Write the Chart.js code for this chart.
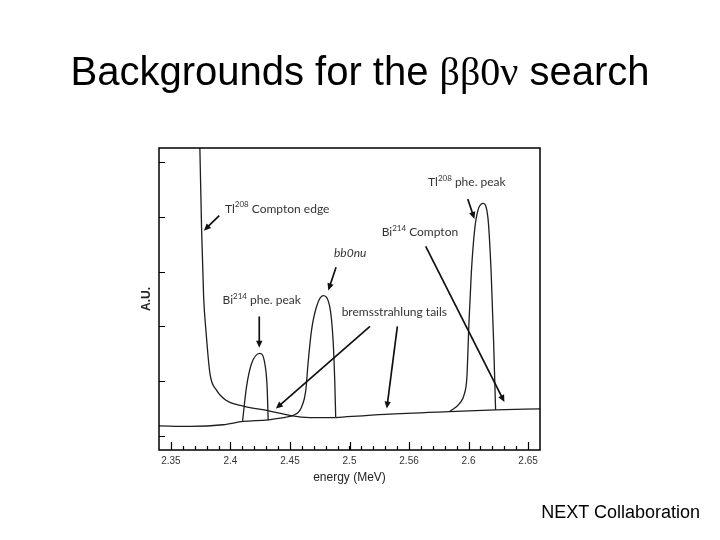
<!DOCTYPE html>
<html>
<head>
<meta charset="utf-8">
<script src="https://cdn.jsdelivr.net/npm/chart.js@4.4.0/dist/chart.umd.min.js"></script>
<style>
  body { margin: 0; background: #fff; }
  #page { position: relative; width: 720px; height: 540px; overflow: hidden; }
  #chart { position: absolute; left: 0; top: 0; }
  #title {
    position: absolute; left: 0; top: 51px; width: 720px; text-align: center;
    font: 40px "Liberation Sans", Arial, sans-serif; line-height: 1; color: #000;
  }
  #title .greek { font-family: "Liberation Serif", "Times New Roman", serif; }
  #credit {
    position: absolute; right: 20px; top: 503px;
    font: 18px "Liberation Sans", Arial, sans-serif; line-height: 1; color: #000;
  }
</style>
</head>
<body>
<div id="page">
  <canvas id="chart" width="720" height="540"></canvas>
  <div id="title">Backgrounds for the <span class="greek">ββ0ν</span> search</div>
  <div id="credit">NEXT Collaboration</div>
</div>
<script>
// axis ticks
const xTickValues = [2.35, 2.4, 2.45, 2.5, 2.55, 2.6, 2.65];
const xTickLabels = ['2.35', '2.4', '2.45', '2.5', '2.56', '2.6', '2.65'];
const yTickValues = [0, 1, 2, 3, 4, 5];

// Tl208 Compton edge and its tail
const comptonE = [2.3740, 2.3758, 2.3775, 2.3794, 2.3828, 2.3883, 2.3967, 2.4107, 2.4331, 2.4498, 2.4666, 2.4764, 2.4884];
const comptonY = [5.60, 3.75, 2.53, 1.93, 1.14, 0.84, 0.65, 0.55, 0.46, 0.38, 0.34, 0.34, 0.34];

// low continuum (left of bb0nu)
const baseLeftE = [2.340, 2.366, 2.3939, 2.4107, 2.4317, 2.447];
const baseLeftY = [0.19, 0.18, 0.21, 0.27, 0.30, 0.35];

// continuum right of bb0nu
const baseRightE = [2.4884, 2.530, 2.584, 2.6227, 2.660];
const baseRightY = [0.34, 0.40, 0.45, 0.48, 0.50];

// Bi214 photo peak
const biPeakE = [2.4102, 2.4135, 2.4177, 2.4247, 2.4289, 2.4308, 2.4317];
const biPeakY = [0.28, 0.90, 1.32, 1.51, 1.32, 0.90, 0.29];

// bb0nu peak
const bbPeakE = [2.4470, 2.4527, 2.4597, 2.4633, 2.4652, 2.4681, 2.4723, 2.4778, 2.4834, 2.4862, 2.4876, 2.4884];
const bbPeakY = [0.35, 0.38, 0.53, 0.84, 1.33, 1.93, 2.36, 2.56, 2.36, 1.75, 1.02, 0.35];

// Tl208 photo peak
const tlPeakE = [2.5841, 2.5925, 2.5966, 2.5986, 2.6003, 2.6023, 2.6051, 2.6078, 2.6122, 2.6162, 2.6190, 2.6210, 2.6227];
const tlPeakY = [0.45, 0.60, 0.78, 1.08, 2.05, 2.97, 3.76, 4.11, 4.24, 3.99, 2.97, 1.75, 0.48];

// annotation texts (left edge, middle) and arrows, in data units
const notes = [
  { x: 2.3954, y: 4.145, parts: [['Tl'], ['208', 'sup'], [' Compton edge']] },
  { x: 2.4870, y: 3.327, parts: [['bb0nu', 'italic']] },
  { x: 2.3934, y: 2.473, parts: [['Bi'], ['214', 'sup'], [' phe. peak']] },
  { x: 2.4934, y: 2.260, parts: [['bremsstrahlung tails']] },
  { x: 2.5660, y: 4.624, parts: [['Tl'], ['208', 'sup'], [' phe. peak']] },
  { x: 2.5270, y: 3.715, parts: [['Bi'], ['214', 'sup'], [' Compton']] }
];
const arrows = [
  [2.3906, 4.018, 2.3777, 3.745],
  [2.4887, 3.078, 2.4822, 2.655],
  [2.4242, 2.182, 2.4242, 1.613],
  [2.5172, 2.000, 2.4382, 0.504],
  [2.5402, 2.000, 2.5313, 0.504],
  [2.5993, 4.322, 2.6049, 3.958],
  [2.5640, 3.460, 2.6301, 0.624]
];

const toPoints = (es, vs) => es.map((e, i) => ({ x: e, y: vs[i] }));

function curve(es, vs) {
  return {
    data: toPoints(es, vs),
    borderColor: '#1e1e1e',
    borderWidth: 1.3,
    pointRadius: 0,
    cubicInterpolationMode: 'monotone',
    fill: false
  };
}

function drawArrow(ctx, x1, y1, x2, y2) {
  const ang = Math.atan2(y2 - y1, x2 - x1);
  const len = 7, half = 3.2;
  ctx.beginPath();
  ctx.moveTo(x1, y1);
  ctx.lineTo(x2 - Math.cos(ang) * len * 0.7, y2 - Math.sin(ang) * len * 0.7);
  ctx.stroke();
  ctx.beginPath();
  ctx.moveTo(x2, y2);
  ctx.lineTo(x2 - Math.cos(ang) * len + Math.sin(ang) * half, y2 - Math.sin(ang) * len - Math.cos(ang) * half);
  ctx.lineTo(x2 - Math.cos(ang) * len - Math.sin(ang) * half, y2 - Math.sin(ang) * len + Math.cos(ang) * half);
  ctx.closePath();
  ctx.fill();
}

const frameAndNotes = {
  id: 'frameAndNotes',
  afterDraw(chart) {
    const { ctx, chartArea: a, scales: { x, y } } = chart;
    ctx.save();

    // frame
    ctx.strokeStyle = '#000';
    ctx.lineWidth = 1.5;
    ctx.strokeRect(a.left, a.top, a.right - a.left, a.bottom - a.top);

    // inward tick marks
    ctx.lineWidth = 1.2;
    ctx.beginPath();
    for (let v = 2.35; v < 2.655; v += 0.01) {
      const px = Math.round(x.getPixelForValue(v)) + 0.5;
      ctx.moveTo(px, a.bottom);
      ctx.lineTo(px, a.bottom - 4);
    }
    for (const v of xTickValues) {
      const px = Math.round(x.getPixelForValue(v)) + 0.5;
      ctx.moveTo(px, a.bottom);
      ctx.lineTo(px, a.bottom - 8);
    }
    for (const v of yTickValues) {
      const py = Math.round(y.getPixelForValue(v)) + 0.5;
      ctx.moveTo(a.left, py);
      ctx.lineTo(a.left + 6, py);
    }
    ctx.stroke();

    // y axis label
    ctx.save();
    ctx.translate(a.left - 12, (a.top + a.bottom) / 2);
    ctx.rotate(-Math.PI / 2);
    ctx.fillStyle = '#222';
    ctx.font = 'bold 12px "Liberation Sans", Arial, sans-serif';
    ctx.textAlign = 'center';
    ctx.textBaseline = 'middle';
    ctx.fillText('A.U.', 0, 0);
    ctx.restore();

    // arrows
    ctx.strokeStyle = '#111';
    ctx.fillStyle = '#111';
    ctx.lineWidth = 1.7;
    for (const [e1, v1, e2, v2] of arrows) {
      drawArrow(ctx, x.getPixelForValue(e1), y.getPixelForValue(v1),
        x.getPixelForValue(e2), y.getPixelForValue(v2));
    }

    // labels
    ctx.fillStyle = '#333';
    ctx.textBaseline = 'middle';
    ctx.textAlign = 'left';
    for (const n of notes) {
      let px = x.getPixelForValue(n.x);
      const py = y.getPixelForValue(n.y);
      for (const [t, style] of n.parts) {
        if (style === 'sup') {
          ctx.font = '8px Lato, "Open Sans", sans-serif';
          ctx.fillText(t, px, py - 4);
        } else if (style === 'italic') {
          ctx.font = 'italic 12px Lato, "Open Sans", sans-serif';
          ctx.fillText(t, px, py);
        } else {
          ctx.font = '12px Lato, "Open Sans", sans-serif';
          ctx.fillText(t, px, py);
        }
        px += ctx.measureText(t).width;
      }
    }
    ctx.restore();
  }
};

new Chart(document.getElementById('chart'), {
  type: 'line',
  data: {
    datasets: [
      curve(comptonE, comptonY),
      curve(baseLeftE, baseLeftY),
      curve(baseRightE, baseRightY),
      curve(biPeakE, biPeakY),
      curve(bbPeakE, bbPeakY),
      curve(tlPeakE, tlPeakY)
    ]
  },
  options: {
    responsive: false,
    animation: false,
    layout: { padding: { left: 159, top: 148, right: 180, bottom: 0 } },
    plugins: { legend: { display: false }, tooltip: { enabled: false } },
    scales: {
      x: {
        type: 'linear',
        min: 2.34,
        max: 2.66,
        afterBuildTicks: s => { s.ticks = xTickValues.map(v => ({ value: v })); },
        afterFit: s => { s.height = 90; },
        grid: { display: false, drawTicks: false },
        border: { display: false },
        ticks: {
          callback: (v, i) => xTickLabels[i],
          color: '#333',
          font: { family: '"Liberation Sans", Arial, sans-serif', size: 10 },
          padding: 5,
          maxRotation: 0,
          autoSkip: false
        },
        title: {
          display: true,
          text: 'energy (MeV)',
          color: '#222',
          font: { family: '"Liberation Sans", Arial, sans-serif', size: 12 },
          padding: { top: 0, bottom: 55 }
        }
      },
      y: {
        type: 'linear',
        min: -0.25,
        max: 5.25,
        display: false
      }
    }
  },
  plugins: [frameAndNotes]
});
</script>
</body>
</html>
